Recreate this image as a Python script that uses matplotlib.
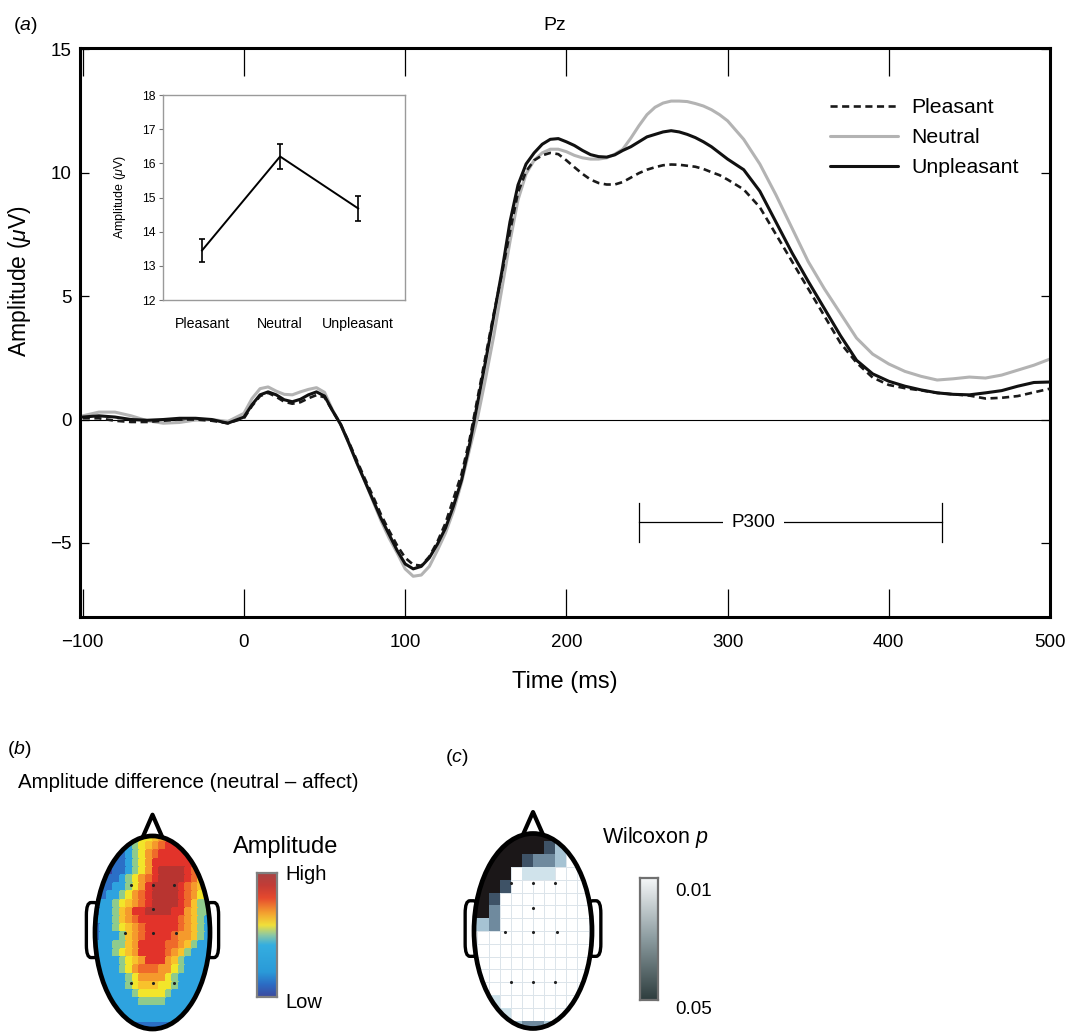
import numpy as np
import matplotlib
matplotlib.use('Agg')
import matplotlib.pyplot as plt
from matplotlib.patches import Ellipse, Polygon, FancyBboxPatch
from matplotlib.colors import ListedColormap, LinearSegmentedColormap, BoundaryNorm, to_rgba

plt.rcParams['font.family'] = ['Liberation Sans', 'DejaVu Sans']
plt.rcParams['mathtext.fontset'] = 'custom'
plt.rcParams['mathtext.rm'] = 'Liberation Sans'
plt.rcParams['mathtext.it'] = 'Liberation Sans:italic'
plt.rcParams['mathtext.bf'] = 'Liberation Sans:bold'

W, H = 1073, 1032

# ---------------- data: ERP at Pz ----------------
time_ms = [-100, -90, -80, -70, -60, -50, -40, -30, -20, -10, 0,
           5, 10, 15, 20, 25, 30, 35, 40, 45, 50, 55, 60, 65, 70, 75, 80, 85, 90, 95, 100,
           105, 110, 115, 120, 125, 130, 135, 140, 145, 150, 155, 160, 165, 170, 175, 180, 185, 190, 195, 200,
           205, 210, 215, 220, 225, 230, 235, 240, 245, 250, 255, 260, 265, 270, 275, 280, 285, 290, 295, 300,
           310, 320, 330, 340, 350, 360, 370, 380, 390, 400, 410, 420, 430, 440, 450, 460, 470, 480, 490, 500]

neutral = [0.15, 0.30, 0.30, 0.15, -0.05, -0.15, -0.12, -0.02, 0.00, -0.08, 0.25,
           0.85, 1.25, 1.32, 1.15, 1.02, 1.00, 1.12, 1.22, 1.29, 1.10, 0.38, -0.20, -0.95, -1.75, -2.50, -3.30, -4.10, -4.80, -5.40, -6.05,
           -6.35, -6.30, -5.95, -5.30, -4.60, -3.70, -2.55, -1.20, 0.10, 1.70, 3.40, 5.30, 7.20, 8.90, 9.95, 10.50, 10.80, 10.95, 10.95, 10.85,
           10.70, 10.60, 10.55, 10.55, 10.60, 10.75, 10.95, 11.40, 11.90, 12.35, 12.65, 12.82, 12.90, 12.90, 12.88, 12.80, 12.70, 12.55, 12.35, 12.10,
           11.35, 10.35, 9.10, 7.75, 6.40, 5.30, 4.30, 3.30, 2.65, 2.25, 1.95, 1.75, 1.60, 1.65, 1.72, 1.68, 1.80, 2.00, 2.20, 2.45]

pleasant = [0.05, 0.05, -0.05, -0.10, -0.10, -0.05, 0.00, 0.00, -0.05, -0.15, 0.05,
            0.55, 0.95, 1.08, 0.92, 0.72, 0.64, 0.70, 0.86, 0.99, 0.90, 0.35, -0.20, -0.90, -1.65, -2.40, -3.10, -3.85, -4.50, -5.10, -5.60,
            -5.88, -5.92, -5.55, -4.95, -4.20, -3.20, -2.20, -0.80, 0.90, 2.60, 4.30, 5.90, 7.60, 9.20, 10.05, 10.50, 10.70, 10.80, 10.75, 10.50,
            10.22, 9.95, 9.72, 9.58, 9.52, 9.52, 9.62, 9.80, 9.98, 10.12, 10.22, 10.30, 10.33, 10.32, 10.28, 10.24, 10.15, 10.02, 9.90, 9.72,
            9.32, 8.60, 7.50, 6.40, 5.30, 4.20, 3.10, 2.30, 1.70, 1.40, 1.27, 1.18, 1.08, 1.02, 0.97, 0.85, 0.88, 0.95, 1.10, 1.25]

unpleasant = [0.10, 0.15, 0.10, 0.00, -0.03, 0.00, 0.05, 0.05, 0.00, -0.15, 0.10,
              0.60, 1.00, 1.12, 1.00, 0.80, 0.72, 0.82, 1.00, 1.12, 0.95, 0.35, -0.20, -0.95, -1.75, -2.50, -3.25, -4.00, -4.65, -5.30, -5.85,
              -6.05, -5.95, -5.60, -5.05, -4.40, -3.50, -2.45, -1.00, 0.70, 2.40, 4.20, 6.00, 8.00, 9.50, 10.35, 10.80, 11.15, 11.35, 11.38, 11.25,
              11.10, 10.90, 10.73, 10.65, 10.63, 10.72, 10.90, 11.05, 11.25, 11.45, 11.55, 11.65, 11.70, 11.65, 11.55, 11.42, 11.25, 11.05, 10.80, 10.55,
              10.12, 9.25, 8.00, 6.75, 5.60, 4.50, 3.40, 2.40, 1.85, 1.55, 1.35, 1.20, 1.08, 1.02, 1.00, 1.08, 1.17, 1.35, 1.50, 1.52]

x_ticks = [-100, 0, 100, 200, 300, 400, 500]
y_ticks = [-5, 0, 5, 10, 15]

p300_window = [245, 433]
p300_level = -4.17
p300_label_time = 316

# ---------------- data: inset ----------------
inset_conditions = ['Pleasant', 'Neutral', 'Unpleasant']
inset_means = [13.45, 16.20, 14.68]
inset_errors = [0.33, 0.36, 0.36]
inset_y_ticks = [12, 13, 14, 15, 16, 17, 18]

# ---------------- data: topographic maps ----------------
# (b) amplitude difference, level 0 (low) .. 9 (high), rows from front (top) to back
amp_diff_grid = [
    "111122344567776666",
    "111112345678887666",
    "001112346788888666",
    "000112346888888666",
    "000112346899998766",
    "001123467899998755",
    "011223468999987654",
    "112234678999987643",
    "122345678999987533",
    "122356889999886533",
    "222356788888876532",
    "122345678888876532",
    "122235678888766532",
    "222335688887765322",
    "222345688887653222",
    "222234568886532222",
    "222234677766432222",
    "222223466664322222",
    "222223455544322222",
    "222222344443222222",
    "222222233332222222",
    "112222222222222211",
    "111222222222222111",
    "111111111111111111",
]

# (c) Wilcoxon p, 0 = not significant (black), 1 = p 0.05 ... 5 = p 0.01
wilcoxon_grid = [
    "000000001555",
    "000000013555",
    "000001223555",
    "000054445555",
    "000155555555",
    "001555555555",
    "002555555555",
    "332555555555",
    "555555555555",
    "555555555555",
    "555555555555",
    "555555555555",
    "555555555555",
    "544555555555",
    "554455555555",
    "555532235555",
]

electrode_x = [-0.38, 0.0, 0.38, 0.0, -0.47, 0.0, 0.40, -0.38, 0.0, 0.38]
electrode_y = [0.49, 0.49, 0.49, 0.24, -0.01, -0.01, -0.01, -0.52, -0.52, -0.52]


def fbox(l, t, r, b):
    return [l / W, 1 - b / H, (r - l) / W, (b - t) / H]


fig = plt.figure(figsize=(W / 100, H / 100), dpi=100)

# ================= (a) main ERP plot =================
ax = fig.add_axes(fbox(80, 48, 1050, 617))
ax.set_xlim(-101.7, 500)
ax.set_ylim(-8.0, 15.05)
ax.axhline(0, color='black', lw=0.8, zorder=1)

l_n, = ax.plot(time_ms, neutral, color='#b3b3b3', lw=2.2, label='Neutral', zorder=2,
               solid_capstyle='round', solid_joinstyle='round')
l_p, = ax.plot(time_ms, pleasant, color='#1a1a1a', lw=1.9, ls=(0, (2.7, 1.7)),
               label='Pleasant', zorder=3)
l_u, = ax.plot(time_ms, unpleasant, color='#111111', lw=2.2, label='Unpleasant', zorder=4,
               solid_capstyle='round', solid_joinstyle='round')

for s in ax.spines.values():
    s.set_linewidth(2.2)
ax.set_xticks(x_ticks)
ax.set_yticks(y_ticks)
ax.tick_params(axis='x', direction='in', length=20, width=0.9, top=True, bottom=True,
               labelsize=13.5, pad=12)
ax.tick_params(axis='y', direction='in', length=6.5, width=0.9, left=True, right=True,
               labelsize=13.5, pad=6)
ax.set_xlabel('Time (ms)', fontsize=17)
ax.set_ylabel(r'Amplitude ($\mu$V)', fontsize=16.5)
ax.xaxis.set_label_coords(0.5, -0.095)
ax.yaxis.set_label_coords(-0.048, 0.59)

ax.legend(handles=[l_p, l_n, l_u], loc='upper left', bbox_to_anchor=(0.773, 0.912),
          frameon=False, fontsize=15.3, handlelength=3.2, handletextpad=0.63,
          labelspacing=0.52, borderaxespad=0, borderpad=0)

# P300 window marker
ax.plot([p300_window[0]] * 2, [p300_level - 0.8, p300_level + 0.8], color='black', lw=0.9)
ax.plot([p300_window[1]] * 2, [p300_level - 0.8, p300_level + 0.8], color='black', lw=0.9)
ax.plot(p300_window, [p300_level] * 2, color='black', lw=0.9)
ax.text(p300_label_time, p300_level, 'P300', ha='center', va='center', fontsize=13.5,
        bbox=dict(fc='white', ec='none', pad=6))

fig.text(13 / W, 1 - 25 / H, r'($\mathit{a}$)', fontsize=14, va='center', ha='left')
fig.text(555 / W, 1 - 25 / H, 'Pz', fontsize=14, va='center', ha='center')

# ---------------- inset ----------------
axi = fig.add_axes(fbox(163, 95, 405, 300))
axi.errorbar(range(len(inset_means)), inset_means, yerr=inset_errors, color='black',
             lw=1.4, elinewidth=1.2, capsize=2.2, capthick=1.2)
axi.set_xlim(-0.5, 2.6)
axi.set_ylim(12, 18)
axi.set_yticks(inset_y_ticks)
axi.set_xticks(range(len(inset_conditions)))
axi.set_xticklabels(inset_conditions)
for s in axi.spines.values():
    s.set_color('#9a9a9a')
    s.set_linewidth(1.0)
axi.tick_params(axis='y', direction='out', length=3, width=0.8, color='#777777',
                labelsize=8.8, pad=2.5)
axi.tick_params(axis='x', length=0, labelsize=10.2, pad=12)
axi.set_ylabel(r'Amplitude ($\mu$V)', fontsize=9)
axi.yaxis.set_label_coords(-0.145, 0.5)


# ================= head maps =================
def draw_head(axh, grid_rows, colors, ext, grid_line_level=None):
    data = np.array([[int(ch) for ch in row] for row in grid_rows])
    nr, nc = data.shape
    cmap = ListedColormap(colors)
    norm = BoundaryNorm(np.arange(-0.5, len(colors), 1), len(colors))
    xe = np.linspace(ext[0], ext[1], nc + 1)
    ye = np.linspace(ext[3], ext[2], nr + 1)
    clip = Ellipse((0, 0), 2, 2, fc='none', ec='none')
    axh.add_patch(clip)
    face = [to_rgba(colors[v]) for v in data.ravel()]
    if grid_line_level is None:
        edges = face
        lw = 0.3
    else:
        edges = [to_rgba('#dce4ea') if v == grid_line_level else to_rgba(colors[v])
                 for v in data.ravel()]
        lw = 0.6
    mesh = axh.pcolormesh(xe, ye, data, cmap=cmap, norm=norm, shading='flat', zorder=2,
                          antialiased=False, linewidth=lw)
    mesh.set_edgecolors(edges)
    mesh.set_clip_path(clip)
    # ears
    for sx in (-1, 1):
        x0 = -1.15 if sx < 0 else 0.93
        ear = FancyBboxPatch((x0, -0.26), 0.22, 0.57,
                             boxstyle='round,pad=0,rounding_size=0.08', mutation_aspect=1.6,
                             fc='white', ec='black', lw=2.4, zorder=1)
        axh.add_patch(ear)
    nose = Polygon([(-0.19, 0.96), (0, 1.22), (0.19, 0.96)], closed=True, fc='white',
                   ec='black', lw=3.0, joinstyle='round', zorder=1)
    axh.add_patch(nose)
    axh.add_patch(Ellipse((0, 0), 2, 2, fill=False, ec='black', lw=3.4, zorder=5))
    axh.scatter(electrode_x, electrode_y, s=5, c='#222222', zorder=4, linewidths=0)
    axh.set_xlim(-1.3, 1.3)
    axh.set_ylim(-1.03, 1.3)
    axh.axis('off')


amp_colors = ['#3b3f99', '#2b6fc6', '#2ea3df', '#8fcb8c', '#f2e52a',
              '#f8c22c', '#f59a2c', '#ef6a2a', '#e2332a', '#b83430']
p_colors = ['#1b1718', '#3e5266', '#6f8a9e', '#a6c3d3', '#d0e3eb', '#ffffff']

axb = fig.add_axes(fbox(77.75, 807, 227.25, 1031.9))
draw_head(axb, amp_diff_grid, amp_colors, (-1.02, 1.02, -1.02, 1.02))

axc = fig.add_axes(fbox(456.3, 804.25, 609.7, 1031.4))
draw_head(axc, wilcoxon_grid, p_colors, (-1.13, 1.13, -1.05, 1.05), grid_line_level=5)

# colour bars
grad = np.linspace(0, 1, 256).reshape(-1, 1)
amp_bar_cmap = LinearSegmentedColormap.from_list('ampbar', [
    (0.0, '#3d4a9e'), (0.1, '#2c6cc4'), (0.2, '#2a9ad8'), (0.42, '#35aee0'),
    (0.5, '#8cc8a4'), (0.58, '#f0e03a'), (0.68, '#f4a030'), (0.8, '#e64a2e'),
    (0.9, '#c43c36'), (1.0, '#a84444')])
cbb = fig.add_axes(fbox(257, 873, 277, 997))
cbb.imshow(grad, origin='lower', aspect='auto', cmap=amp_bar_cmap)
cbb.set_xticks([]); cbb.set_yticks([])
for s in cbb.spines.values():
    s.set_color('#808080'); s.set_linewidth(1.6)

p_bar_cmap = LinearSegmentedColormap.from_list('pbar', [
    (0.0, '#2e3d3e'), (0.5, '#8b9b9f'), (1.0, '#f5f7f8')])
cbc = fig.add_axes(fbox(640, 878, 658, 1000))
cbc.imshow(grad, origin='lower', aspect='auto', cmap=p_bar_cmap)
cbc.set_xticks([]); cbc.set_yticks([])
for s in cbc.spines.values():
    s.set_color('#707070'); s.set_linewidth(1.6)

# texts for (b) and (c)
fig.text(7 / W, 1 - 750 / H, r'($\mathit{b}$)', fontsize=14, va='center', ha='left')
fig.text(18 / W, 1 - 782 / H, 'Amplitude difference (neutral \u2013 affect)', fontsize=14.8,
         va='center', ha='left')
fig.text(233 / W, 1 - 847 / H, 'Amplitude', fontsize=17, va='center', ha='left')
fig.text(285 / W, 1 - 874 / H, 'High', fontsize=14.5, va='center', ha='left')
fig.text(285 / W, 1 - 1002 / H, 'Low', fontsize=14.5, va='center', ha='left')

fig.text(445 / W, 1 - 757 / H, r'($\mathit{c}$)', fontsize=14, va='center', ha='left')
fig.text(602 / W, 1 - 837 / H, r'Wilcoxon $\mathit{p}$', fontsize=15.5, va='center', ha='left')
fig.text(675 / W, 1 - 892 / H, '0.01', fontsize=13.5, va='center', ha='left')
fig.text(675 / W, 1 - 1010 / H, '0.05', fontsize=13.5, va='center', ha='left')

fig.savefig('out.png', dpi=100)
